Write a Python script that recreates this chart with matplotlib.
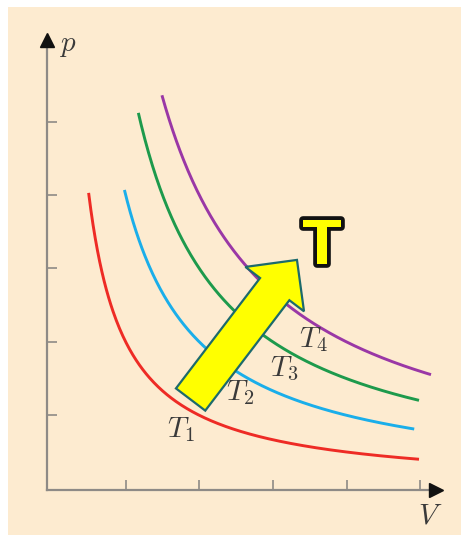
import numpy as np
import matplotlib
matplotlib.use("Agg")
import matplotlib.pyplot as plt
from matplotlib.patches import Rectangle, FancyArrow
import matplotlib.patheffects as pe

# Isotherms p = k / V for four temperatures T1 < T2 < T3 < T4
labels = ["$T_1$", "$T_2$", "$T_3$", "$T_4$"]
k_values = [2.0, 4.0, 6.0, 8.0]            # pV product of each isotherm
p_start = [4.03, 4.07, 5.12, 5.36]         # pressure where each curve begins
v_end = [4.985, 4.92, 4.985, 5.148]        # volume where each curve ends
colors = ["#ee2b25", "#1aaeea", "#1d9a4c", "#9a37a6"]

# Label anchor positions (V, p) for each isotherm name
label_v = [1.56, 2.36, 2.96, 3.35]
label_p = [0.70, 1.21, 1.54, 1.93]

x_ticks = [1, 2, 3, 4, 5]
y_ticks = [1, 2, 3, 4, 5]

# Temperature-increase arrow (tail -> tip) in (V, p)
arrow_tail = (1.882, 1.215)
arrow_tip = (3.327, 3.117)

W, H = 461, 537
fig = plt.figure(figsize=(W / 100, H / 100), dpi=100)
fig.patch.set_facecolor("white")
fig.patches.append(Rectangle((8 / W, 2 / H), 1 - 8 / W, (535 - 7) / H,
                             transform=fig.transFigure, facecolor="#fdebd0",
                             edgecolor="none", zorder=-10))

plt.rcParams["mathtext.fontset"] = "cm"

left, right, top, bottom = 47, 436, 40, 490
ax = fig.add_axes([left / W, (H - bottom) / H, (right - left) / W, (bottom - top) / H])
ax.set_zorder(1)
ax.set_facecolor("none")
ax.set_xlim(-0.0693, 5.216)
ax.set_ylim(-0.0177, 6.113)

axis_grey = "#8e8a86"
for s in ["top", "right"]:
    ax.spines[s].set_visible(False)
for s in ["left", "bottom"]:
    ax.spines[s].set_color(axis_grey)
    ax.spines[s].set_linewidth(1.6)

ax.set_xticks(x_ticks)
ax.set_yticks(y_ticks)
ax.tick_params(direction="in", length=7.2, width=1.2, color=axis_grey,
               labelbottom=False, labelleft=False)

# axis arrowheads
ax.plot([1], [0], marker=">", ms=10, color="#111111", transform=ax.transAxes,
        clip_on=False, zorder=6)
ax.plot([0], [1], marker="^", ms=10, color="#111111", transform=ax.transAxes,
        clip_on=False, zorder=6)

ax.text(0.216, 6.045, "$p$", fontsize=21, color="#3a3a3a", ha="center",
        va="center", clip_on=False)
ax.text(5.135, -0.36, "$V$", fontsize=21, color="#3a3a3a", ha="center",
        va="center", clip_on=False)

for k, p0, v1, c in zip(k_values, p_start, v_end, colors):
    v = np.linspace(k / p0, v1, 300)
    ax.plot(v, k / v, color=c, lw=2.1, solid_capstyle="butt", zorder=2)

for lab, lv, lp in zip(labels, label_v, label_p):
    ax.text(lv, lp, lab, fontsize=21, color="#3a3a3a", ha="left",
            va="baseline", zorder=3)

dx = arrow_tip[0] - arrow_tail[0]
dy = arrow_tip[1] - arrow_tail[1]
ax.add_patch(FancyArrow(arrow_tail[0], arrow_tail[1], dx, dy, width=0.50,
                        head_width=1.0, head_length=0.50,
                        length_includes_head=True, facecolor="#ffff00",
                        edgecolor="#1c6a6c", linewidth=1.6, joinstyle="miter",
                        zorder=4))

ax.text(3.667, 3.29, "T", fontsize=46, fontweight="bold",
        family="Liberation Sans", color="#ffff00", ha="center", va="center",
        zorder=5,
        path_effects=[pe.Stroke(linewidth=5.5, foreground="#111111",
                                joinstyle="round"), pe.Normal()])

fig.savefig("out.png", dpi=100)
